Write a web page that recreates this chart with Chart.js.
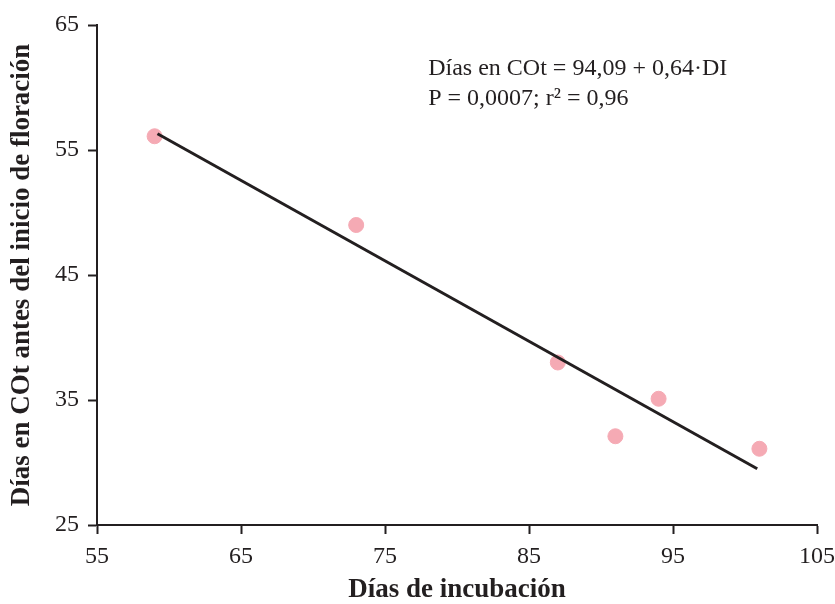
<!DOCTYPE html>
<html>
<head>
<meta charset="utf-8">
<script src="https://cdn.jsdelivr.net/npm/chart.js@4.4.1/dist/chart.umd.min.js"></script>
<style>
  html, body { margin: 0; padding: 0; background: #ffffff; }
  #wrap { width: 835px; height: 604px; }
</style>
</head>
<body>
<div id="wrap"><canvas id="c" width="835" height="604"></canvas></div>
<script>
// Data
const diasIncubacion = [59, 73, 87, 91, 94, 101];
const diasCOt = [56.1, 49.0, 38.0, 32.1, 35.1, 31.1];
// Fitted regression line end points
const lineaX = [59.2, 100.85];
const lineaY = [56.3, 29.5];
// Axis ticks
const xTicks = [55, 65, 75, 85, 95, 105];
const yTicks = [25, 35, 45, 55, 65];
// Annotation
const anotacion = ["Días en COt = 94,09 + 0,64·DI", "P = 0,0007; r² = 0,96"];
const anotacionX = 78;
const anotacionY = [61.5, 59.1];

const FONT = "'Liberation Serif', 'Times New Roman', serif";

const annotationPlugin = {
  id: 'anot',
  afterDatasetsDraw(chart) {
    const ctx = chart.ctx;
    const xs = chart.scales.x, ys = chart.scales.y;
    ctx.save();
    ctx.fillStyle = '#231f20';
    ctx.font = '24px ' + FONT;
    ctx.textBaseline = 'middle';
    ctx.textAlign = 'left';
    anotacion.forEach((t, i) => {
      ctx.fillText(t, xs.getPixelForValue(anotacionX), ys.getPixelForValue(anotacionY[i]));
    });
    ctx.restore();
  }
};

new Chart(document.getElementById('c'), {
  type: 'scatter',
  data: {
    datasets: [
      {
        type: 'line',
        data: lineaX.map((x, i) => ({ x: x, y: lineaY[i] })),
        borderColor: '#231f20',
        borderWidth: 3,
        pointRadius: 0,
        fill: false,
        order: 0
      },
      {
        data: diasIncubacion.map((x, i) => ({ x: x, y: diasCOt[i] })),
        backgroundColor: '#f5aab4',
        borderColor: '#f5aab4',
        pointRadius: 7.5,
        pointHoverRadius: 7.5,
        order: 1
      }
    ]
  },
  options: {
    responsive: false,
    devicePixelRatio: 1,
    animation: false,
    events: [],
    layout: { padding: { top: 25, right: 18, left: 0, bottom: 0 } },
    plugins: { legend: { display: false }, tooltip: { enabled: false } },
    scales: {
      x: {
        type: 'linear',
        min: 55, max: 105,
        afterBuildTicks(s) { s.ticks = xTicks.map(v => ({ value: v })); },
        afterFit(s) { s.height = 79; s.paddingRight = 0; s.paddingLeft = 0; },
        border: { display: true, color: '#231f20', width: 2 },
        grid: { display: true, drawOnChartArea: false, drawTicks: true, tickLength: 9, tickWidth: 2, tickColor: '#231f20' },
        ticks: { color: '#231f20', font: { family: FONT, size: 24 }, padding: 8, maxRotation: 0 },
        title: { display: true, text: 'Días de incubación', color: '#231f20', font: { family: FONT, size: 27, weight: 'bold', lineHeight: 1 }, padding: { top: 0, bottom: 0 } }
      },
      y: {
        type: 'linear',
        min: 25, max: 65,
        afterBuildTicks(s) { s.ticks = yTicks.map(v => ({ value: v })); },
        afterFit(s) { s.width = 97; s.paddingTop = 0; s.paddingBottom = 0; },
        border: { display: true, color: '#231f20', width: 2 },
        grid: { display: true, drawOnChartArea: false, drawTicks: true, tickLength: 9, tickWidth: 2, tickColor: '#231f20' },
        ticks: { color: '#231f20', font: { family: FONT, size: 24 }, padding: 9 },
        title: { display: true, text: 'Días en COt antes del inicio de floración', color: '#231f20', font: { family: FONT, size: 27, weight: 'bold', lineHeight: 1 }, padding: { top: 9, bottom: 0 } }
      }
    }
  },
  plugins: [annotationPlugin]
});
</script>
</body>
</html>
